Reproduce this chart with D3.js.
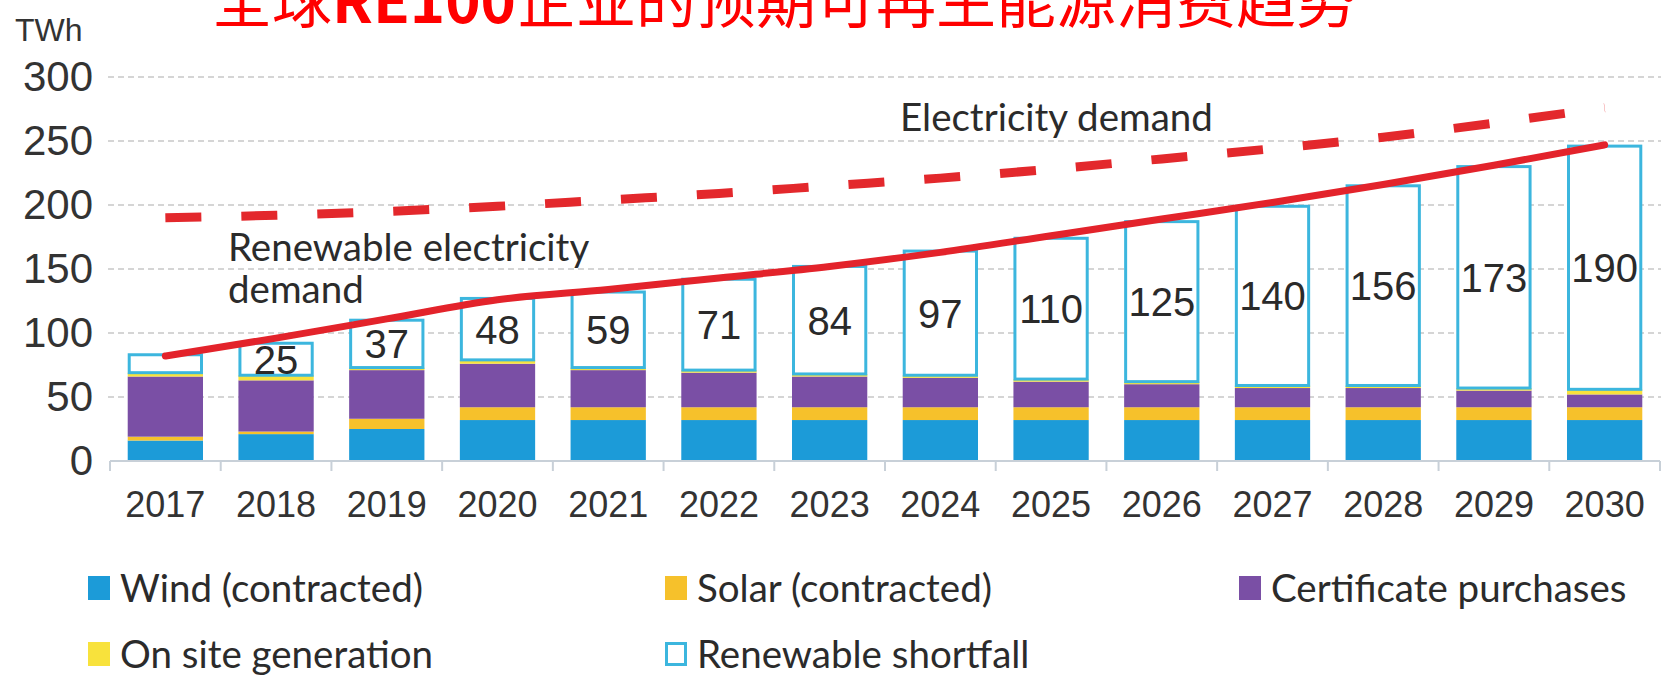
<!DOCTYPE html>
<html>
<head>
<meta charset="UTF-8" />
<title>RE100 renewable electricity demand</title>
<script src="https://d3js.org/d3.v7.min.js"></script>
<style>
  body { margin: 0; background: #fff; }
  svg { display: block; }
</style>
</head>
<body>
<svg id="chart"></svg>
<script>
// data (TWh)
const years = ['2017','2018','2019','2020','2021','2022','2023','2024','2025','2026','2027','2028','2029','2030'];
const wind      = [16, 21, 25, 32, 32, 32, 32, 32, 32, 32, 32, 32, 32, 32];
const solar     = [ 3,  2,  8, 10, 10, 10, 10, 10, 10, 10, 10, 10, 10, 10];
const cert      = [47, 40, 38, 34, 29, 27, 24, 23, 20, 18, 15, 15, 13, 10];
const onsite    = [ 3,  4,  2,  3,  2,  2,  2,  2,  2,  2,  2,  2,  2,  4];
const shortfall = [14, 25, 37, 48, 59, 71, 84, 97,110,125,140,156,173,190];
const shortfallLabels = ['', '25', '37', '48', '59', '71', '84', '97', '110', '125', '140', '156', '173', '190'];
const renewableDemand   = [82, 96, 111, 126, 134, 143, 152, 163, 176, 189, 202, 216, 231, 247];
const electricityDemand = [190, 192, 195, 199, 204, 209, 215, 221, 228, 236, 244, 253, 264, 276];
const yTicks = [0, 50, 100, 150, 200, 250, 300];

const seriesKeys = ['wind', 'solar', 'cert', 'onsite', 'shortfall'];
const seriesNames = ['Wind (contracted)', 'Solar (contracted)', 'Certificate purchases', 'On site generation', 'Renewable shortfall'];
const seriesColors = ['#1c9bd8', '#f6c12b', '#7a4fa5', '#f8e23c', '#3cb6de'];

const W = 1661, H = 678;
const svg = d3.select('#chart').attr('width', W).attr('height', H);

const x = d3.scaleBand().domain(years).range([110, 1660]).paddingInner(0.32).paddingOuter(0.16);
const y = d3.scaleLinear().domain([0, 300]).range([461, 77]);
const color = d3.scaleOrdinal().domain(seriesKeys).range(seriesColors);

const rows = years.map((yr, i) => ({
  year: yr, wind: wind[i], solar: solar[i], cert: cert[i], onsite: onsite[i], shortfall: shortfall[i]
}));
const stacked = d3.stack().keys(seriesKeys)(rows);

// gridlines
svg.append('g').selectAll('line')
  .data(yTicks.filter(d => d > 0))
  .join('line')
  .attr('x1', 108).attr('x2', W)
  .attr('y1', d => y(d)).attr('y2', d => y(d))
  .attr('stroke', '#c8c8c8').attr('stroke-width', 1.6)
  .attr('stroke-dasharray', '6 4');

// y axis labels
const yAxis = svg.append('g').attr('transform', 'translate(93,0)')
  .call(d3.axisLeft(y).tickValues(yTicks).tickSize(0).tickPadding(0));
yAxis.select('.domain').remove();
yAxis.selectAll('text')
  .attr('font-family', 'Liberation Sans, Arial, sans-serif')
  .attr('font-size', 42).attr('fill', '#333');

svg.append('text').attr('x', 15).attr('y', 41)
  .attr('font-family', 'Liberation Sans, Arial, sans-serif')
  .attr('font-size', 32).attr('fill', '#333').text('TWh');

// bars
const layers = svg.append('g').selectAll('g')
  .data(stacked)
  .join('g');

layers.selectAll('rect')
  .data(d => d.map(p => ({ key: d.key, p })))
  .join('rect')
  .attr('x', d => x(d.p.data.year) + (d.key === 'shortfall' ? 1.5 : 0))
  .attr('width', d => x.bandwidth() - (d.key === 'shortfall' ? 3 : 0))
  .attr('y', d => y(d.p[1]))
  .attr('height', d => y(d.p[0]) - y(d.p[1]))
  .attr('fill', d => d.key === 'shortfall' ? '#fff' : color(d.key))
  .attr('stroke', d => d.key === 'shortfall' ? color('shortfall') : 'none')
  .attr('stroke-width', 3);

// shortfall labels, centred in each box
const boxLayer = stacked[stacked.length - 1];
svg.append('g').selectAll('text')
  .data(boxLayer)
  .join('text')
  .attr('x', d => x(d.data.year) + x.bandwidth() / 2)
  .attr('y', d => (y(d[0]) + y(d[1])) / 2)
  .attr('dy', '0.36em')
  .attr('text-anchor', 'middle')
  .attr('font-family', 'Liberation Sans, Arial, sans-serif')
  .attr('font-size', 40).attr('fill', '#2a2a2a')
  .text((d, i) => shortfallLabels[i]);

// x axis
svg.append('line')
  .attr('x1', x.range()[0]).attr('x2', x.range()[1])
  .attr('y1', y(0)).attr('y2', y(0))
  .attr('stroke', '#c8d0d8').attr('stroke-width', 2);
const half = x.step() * x.paddingInner() / 2;
const bounds = years.map(yr => x(yr) - half).concat([x(years[years.length - 1]) + x.bandwidth() + half]);
svg.append('g').selectAll('line')
  .data(bounds)
  .join('line')
  .attr('x1', d => d).attr('x2', d => d)
  .attr('y1', y(0)).attr('y2', y(0) + 10)
  .attr('stroke', '#c8d0d8').attr('stroke-width', 2);

const xAxis = svg.append('g').attr('transform', `translate(0,${y(0)})`)
  .call(d3.axisBottom(x).tickSize(0).tickPadding(30));
xAxis.select('.domain').remove();
xAxis.selectAll('text')
  .attr('font-family', 'Liberation Sans, Arial, sans-serif')
  .attr('font-size', 36).attr('fill', '#333');

// lines
const line = d3.line()
  .x((d, i) => x(years[i]) + x.bandwidth() / 2)
  .y(d => y(d))
  .curve(d3.curveMonotoneX);

svg.append('path').datum(electricityDemand)
  .attr('d', line).attr('fill', 'none')
  .attr('stroke', '#e3282c').attr('stroke-width', 9)
  .attr('stroke-dasharray', '36 40');

svg.append('path').datum(renewableDemand)
  .attr('d', line).attr('fill', 'none')
  .attr('stroke', '#e3232b').attr('stroke-width', 7)
  .attr('stroke-linecap', 'round');

// annotations
const noteFont = 'Lato, "Open Sans", sans-serif';
const noteSize = 38.5;
svg.append('text').attr('x', 900).attr('y', 131)
  .attr('font-family', noteFont).attr('font-size', noteSize).attr('fill', '#2b2b2b')
  .text('Electricity demand');
const ren = svg.append('text').attr('x', 228).attr('y', 261)
  .attr('font-family', noteFont).attr('font-size', noteSize).attr('fill', '#2b2b2b');
ren.append('tspan').attr('x', 228).text('Renewable electricity');
ren.append('tspan').attr('x', 228).attr('dy', 42).text('demand');

// legend
const legendCols = [88, 665, 1239];
const legendRows = [602, 668];
const leg = svg.append('g').selectAll('g')
  .data(seriesKeys)
  .join('g')
  .attr('transform', (d, i) => `translate(${legendCols[i % 3]},${legendRows[Math.floor(i / 3)]})`);
leg.append('rect')
  .attr('x', d => d === 'shortfall' ? 1.5 : 0)
  .attr('y', d => d === 'shortfall' ? -24.5 : -26)
  .attr('width', d => d === 'shortfall' ? 19 : 22)
  .attr('height', d => d === 'shortfall' ? 21 : 24)
  .attr('fill', d => d === 'shortfall' ? '#fff' : color(d))
  .attr('stroke', d => d === 'shortfall' ? color(d) : 'none')
  .attr('stroke-width', 3);
leg.append('text')
  .attr('x', 32).attr('y', 0)
  .attr('font-family', noteFont).attr('font-size', noteSize).attr('fill', '#2b2b2b')
  .text((d, i) => seriesNames[i]);

// title (cut off at the top, as in the source image)
const title = svg.append('text').attr('x', 212).attr('y', 23)
  .attr('font-family', '"Noto Sans CJK SC", sans-serif')
  .attr('font-size', 60).attr('fill', '#ff0000');
title.append('tspan').text('全球');
title.append('tspan').attr('font-weight', 'bold').text('RE100');
title.append('tspan').text('企业的预期可再生能源消费趋势');
</script>
</body>
</html>
